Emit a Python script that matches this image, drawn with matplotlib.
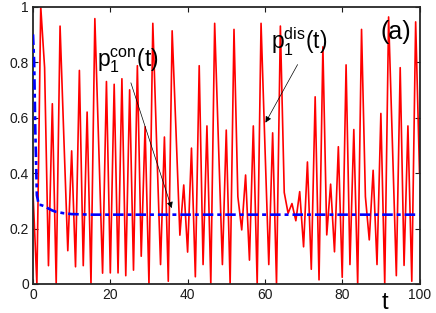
#Grafico p1(t) - caso (a)
#Curvas p1 dis (vermelha) e p1 con (azul tracejada)

#Imports
import matplotlib
matplotlib.use('Agg')
import matplotlib.pyplot as plt

#1. Dados lidos da figura
# -- p1 dis, amostrado em t inteiro de 0 a 100
t_dis = list(range(0, 101))
p_dis = [0.33, 0.0, 1.0, 0.78, 0.066, 0.65, 0.0, 0.93, 0.52, 0.12,
         0.48, 0.062, 0.77, 0.066, 0.62, 0.0, 0.957, 0.5, 0.039, 0.73,
         0.04, 0.72, 0.04, 0.74, 0.03, 0.70, 0.05, 0.787, 0.1, 0.567,
         0.0, 0.94, 0.5, 0.07, 0.53, 0.01, 0.913, 0.55, 0.176, 0.357,
         0.115, 0.49, 0.026, 0.787, 0.07, 0.57, 0.0, 0.94, 0.5, 0.07,
         0.555, 0.0, 0.918, 0.315, 0.195, 0.393, 0.086, 0.57, 0.0, 0.94,
         0.5, 0.07, 0.545, 0.0, 0.93, 0.33, 0.255, 0.29, 0.228, 0.333,
         0.134, 0.44, 0.053, 0.675, 0.015, 0.855, 0.177, 0.36, 0.116, 0.495,
         0.024, 0.79, 0.07, 0.557, 0.0, 0.918, 0.315, 0.159, 0.41, 0.07,
         0.615, 0.0, 0.963, 0.5, 0.03, 0.78, 0.067, 0.57, 0.01, 0.945,
         0.4]

# -- p1 con (curva continua)
t_con = [0, 0.3, 0.6, 1.0, 1.5, 2, 3, 4, 5, 6, 8, 10, 15, 20, 100]
p_con = [0.90, 0.80, 0.55, 0.32, 0.285, 0.285, 0.28, 0.272, 0.265, 0.26,
         0.255, 0.252, 0.25, 0.25, 0.25]

# -- eixos
x_ticks = [0, 20, 40, 60, 80, 100]
y_ticks = [0, 0.2, 0.4, 0.6, 0.8, 1]
y_tick_labels = ['0', '0.2', '0.4', '0.6', '0.8', '1']

#2. Figura
plt.rcParams['font.family'] = ['Liberation Sans', 'DejaVu Sans']
plt.rcParams['mathtext.fontset'] = 'custom'
plt.rcParams['mathtext.rm'] = 'Liberation Sans'

fig = plt.figure(figsize=(4.36, 3.13), dpi=100)
ax = fig.add_axes([0.0757, 0.0927, 0.8865, 0.886])

ax.plot(t_dis, p_dis, color='red', lw=1.2, zorder=2)
ax.plot(t_con, p_con, color='blue', lw=1.9, ls=(0, (4, 1.5, 1.5, 1.5)), zorder=3)

ax.set_xlim(0, 100)
ax.set_ylim(0, 1)
ax.set_xticks(x_ticks)
ax.set_yticks(y_ticks)
ax.set_yticklabels(y_tick_labels)
ax.tick_params(direction='in', length=3.5, width=0.8, top=True, right=True,
               labelsize=10, pad=3, colors='#1a1a1a')
for s in ax.spines.values():
    s.set_linewidth(1.3)
    s.set_color('#262626')

#3. Textos e setas
fig.text(385/436, 1 - 303/313, 't', fontsize=17, ha='center', va='center')
ax.text(93.8, 0.91, '(a)', fontsize=18, ha='center', va='center')

ax.annotate('', xy=(36.1, 0.264), xytext=(25.1, 0.735),
            arrowprops=dict(arrowstyle='-|>', color='k', lw=0.5, mutation_scale=9))
ax.annotate('', xy=(59.8, 0.573), xytext=(68.8, 0.80),
            arrowprops=dict(arrowstyle='-|>', color='k', lw=0.5, mutation_scale=9))

ax.text(16.6, 0.805, r'$\mathregular{p_1^{con}(t)}$', fontsize=16.5, ha='left', va='center')
ax.text(61.6, 0.872, r'$\mathregular{p_1^{dis}(t)}$', fontsize=16.5, ha='left', va='center')

fig.savefig('out.png', dpi=100)
